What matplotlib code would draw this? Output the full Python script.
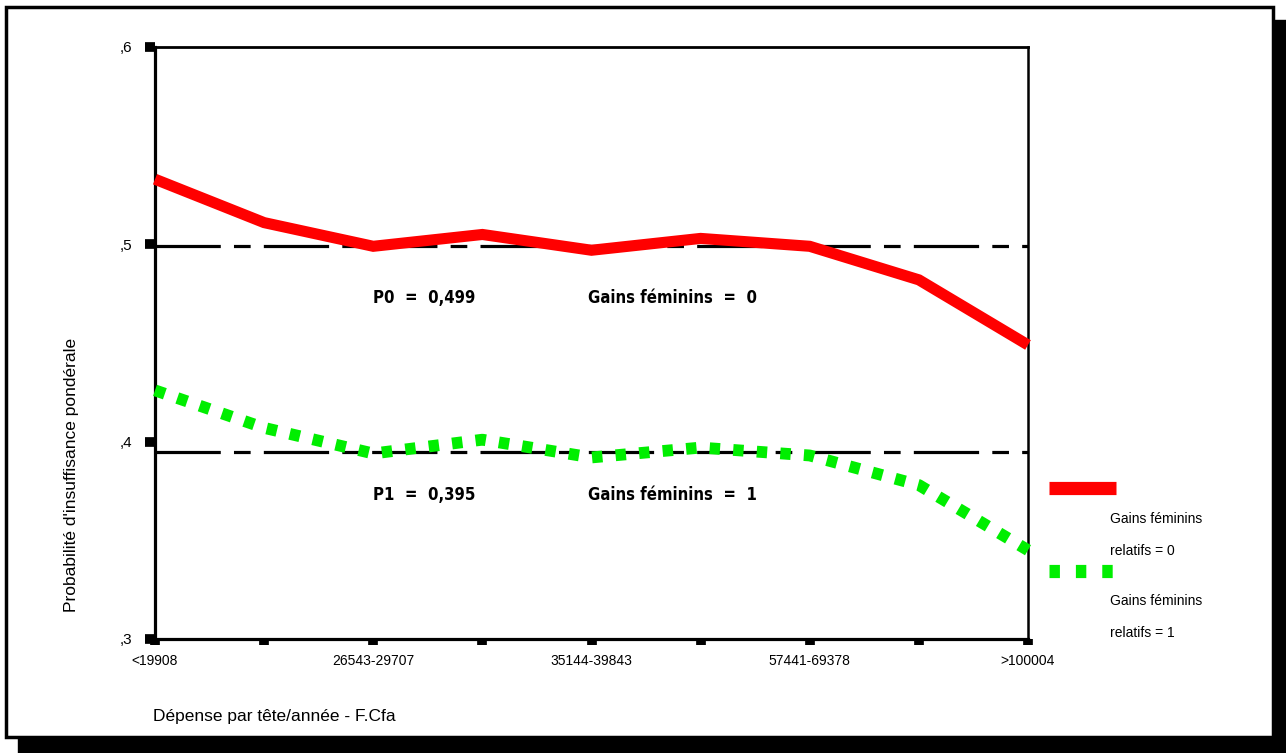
import matplotlib.pyplot as plt
from matplotlib.patches import Rectangle
from matplotlib.lines import Line2D

categories = ['<19908', '', '26543-29707', '', '35144-39843', '', '57441-69378', '', '>100004']
gains_0 = [0.533, 0.511, 0.499, 0.505, 0.497, 0.503, 0.499, 0.482, 0.449]
gains_1 = [0.426, 0.407, 0.394, 0.401, 0.392, 0.397, 0.393, 0.378, 0.345]
p0 = 0.499
p1 = 0.395
yticks = [0.3, 0.4, 0.5, 0.6]
ytick_labels = [',3', ',4', ',5', ',6']

plt.rcParams['lines.scale_dashes'] = False
narrow = ['Liberation Sans Narrow', 'Liberation Sans', 'DejaVu Sans']

fig = plt.figure(figsize=(12.86, 7.53), dpi=100)

# outer frame with shadow
fig.patches.append(Rectangle((18/1286, 0), 1 - 18/1286, 16/753, transform=fig.transFigure,
                             color='black', zorder=0))
fig.patches.append(Rectangle((1 - 13/1286, 0), 13/1286, 1 - 20/753, transform=fig.transFigure,
                             color='black', zorder=0))
fig.patches.append(Rectangle((6/1286, 16/753), 1 - 19/1286, 1 - 23/753, transform=fig.transFigure,
                             facecolor='white', edgecolor='black', linewidth=2.5, zorder=1))

ax = fig.add_axes([155/1286, 1 - 639/753, 873/1286, 592/753])
ax.set_zorder(2)
ax.patch.set_alpha(0)
x = list(range(len(categories)))

ax.plot(x, gains_0, color='#ff0000', linewidth=8, solid_joinstyle='miter',
        solid_capstyle='butt', clip_on=False, zorder=4)
ax.plot(x, gains_1, color='#00ee00', linewidth=8.5, dashes=(7.5, 9.5),
        dash_capstyle='butt', clip_on=False, zorder=4)

dash = (47, 9.5, 12, 9.5)
ax.axhline(p0, color='black', linewidth=2.3, dashes=dash, zorder=3)
ax.axhline(p1, color='black', linewidth=2.3, dashes=dash, zorder=3)

bold = dict(fontsize=12, fontweight='bold', family=['DejaVu Sans'], stretch='condensed')
ax.text(2.0, 0.473, 'P0  =  0,499', ha='left', va='center', **bold)
ax.text(3.97, 0.473, 'Gains féminins  =  0', ha='left', va='center', **bold)
ax.text(2.0, 0.373, 'P1  =  0,395', ha='left', va='center', **bold)
ax.text(3.97, 0.373, 'Gains féminins  =  1', ha='left', va='center', **bold)

ax.set_xlim(0, len(categories) - 1)
ax.set_ylim(0.3, 0.6)
ax.set_xticks(x)
ax.set_xticklabels(categories, family=narrow, fontsize=10)
ax.set_yticks(yticks)
ax.set_yticklabels(ytick_labels, family=narrow, fontsize=11)
ax.tick_params(axis='x', length=4, width=7, pad=7)
ax.tick_params(axis='y', length=7, width=7, pad=9)
for s in ax.spines.values():
    s.set_linewidth(2.3)
ax.spines['right'].set_linewidth(1.8)
ax.spines['top'].set_linewidth(2.0)

fig.text(72/1286, 1 - 475/753, "Probabilité d'insuffisance pondérale", rotation=90,
         ha='center', va='center', fontsize=12.5, family=['Liberation Sans', 'DejaVu Sans'])
fig.text(153/1286, 1 - 717/753, 'Dépense par tête/année - F.Cfa', ha='left', va='center',
         fontsize=12.5, family=['Liberation Sans', 'DejaVu Sans'])

# legend
fig.lines.append(Line2D([1049/1286, 1116/1286], [1 - 488/753] * 2, transform=fig.transFigure,
                        color='#ff0000', linewidth=9.5, solid_capstyle='butt'))
fig.lines.append(Line2D([1049/1286, 1119/1286], [1 - 571/753] * 2, transform=fig.transFigure,
                        color='#00ee00', linewidth=9.5, dashes=(7.5, 11.5), dash_capstyle='butt'))
for label, yy in [('Gains féminins', 519), ('relatifs = 0', 551),
                  ('Gains féminins', 601), ('relatifs = 1', 633)]:
    fig.text(1110/1286, 1 - yy/753, label, ha='left', va='center', fontsize=10, family=narrow)

fig.savefig('out.png', dpi=100)
